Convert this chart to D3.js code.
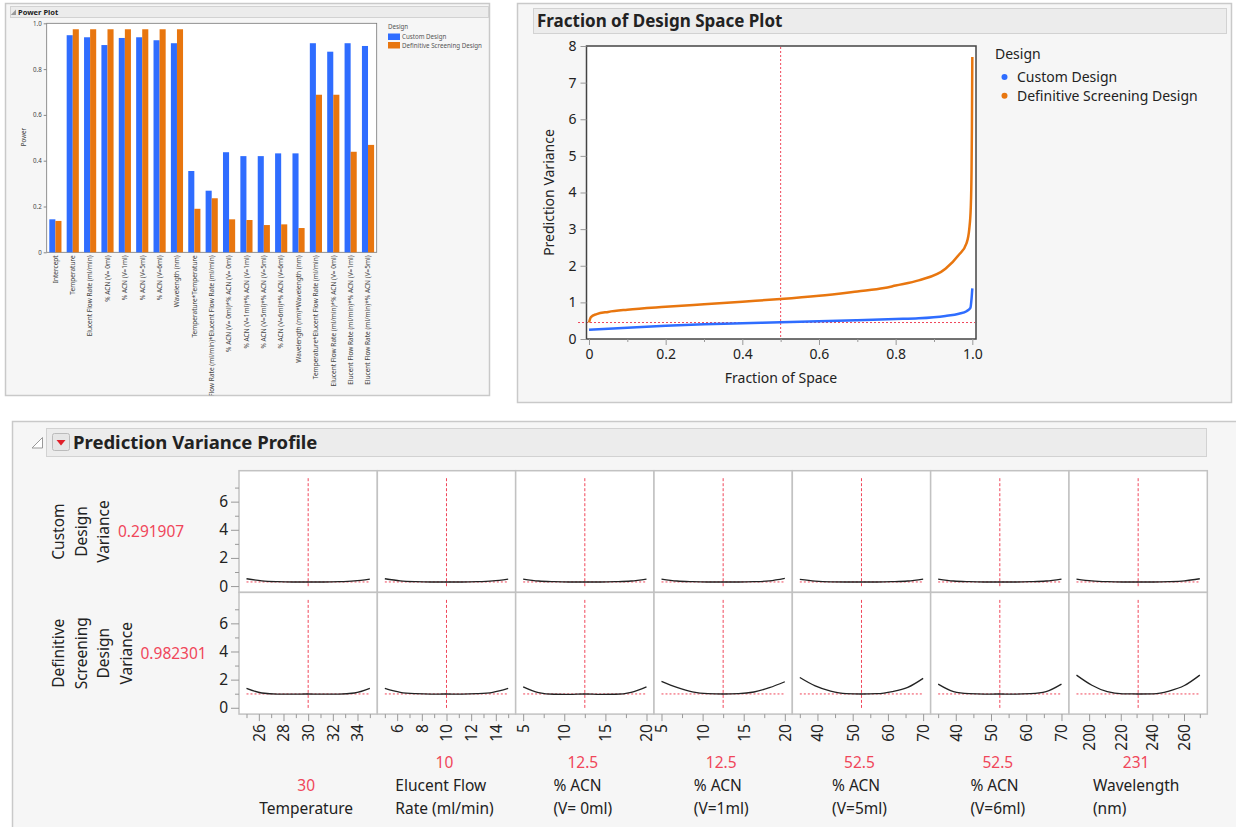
<!DOCTYPE html>
<html>
<head>
<meta charset="utf-8">
<script src="https://cdn.jsdelivr.net/npm/d3@7"></script>
<style>
body { margin: 0; background: #fff; }
svg text { font-family: "Segoe UI", "Noto Sans", sans-serif; fill: #222; }
</style>
</head>
<body>
<svg id="chart" width="1236" height="827"></svg>
<script>
// ---- data ----
const designs = ["Custom Design", "Definitive Screening Design"];

const terms = ["Intercept", "Temperature", "Elucent Flow Rate (ml/min)", "% ACN (V= 0ml)", "% ACN (V=1ml)",
    "% ACN (V=5ml)", "% ACN (V=6ml)", "Wavelength (nm)", "Temperature*Temperature",
    "Elucent Flow Rate (ml/min)*Elucent Flow Rate (ml/min)", "% ACN (V= 0ml)*% ACN (V= 0ml)",
    "% ACN (V=1ml)*% ACN (V=1ml)", "% ACN (V=5ml)*% ACN (V=5ml)", "% ACN (V=6ml)*% ACN (V=6ml)",
    "Wavelength (nm)*Wavelength (nm)", "Temperature*Elucent Flow Rate (ml/min)",
    "Elucent Flow Rate (ml/min)*% ACN (V= 0ml)", "Elucent Flow Rate (ml/min)*% ACN (V=1ml)",
    "Elucent Flow Rate (ml/min)*% ACN (V=5ml)"];
const powerCustom = [0.144, 0.948, 0.939, 0.905, 0.936, 0.939, 0.926, 0.913, 0.355, 0.269, 0.437, 0.42, 0.42, 0.432, 0.432, 0.913, 0.876, 0.913, 0.901];
const powerDSD = [0.137, 0.974, 0.974, 0.974, 0.974, 0.974, 0.974, 0.974, 0.19, 0.236, 0.144, 0.141, 0.119, 0.122, 0.106, 0.688, 0.688, 0.439, 0.469];
const powerTicks = [0, 0.2, 0.4, 0.6, 0.8, 1.0];

// fraction of design space
const fracCustom = [[0, 0.25], [0.05, 0.28], [0.1, 0.31], [0.2, 0.36], [0.3, 0.4], [0.4, 0.43], [0.5, 0.455],
    [0.6, 0.485], [0.7, 0.515], [0.8, 0.545], [0.86, 0.565], [0.93, 0.63], [0.965, 0.69], [0.985, 0.76],
    [0.995, 0.85], [0.998, 1.1], [1.0, 1.38]];
const fracDSD = [[0, 0.45], [0.005, 0.6], [0.02, 0.68], [0.05, 0.74], [0.1, 0.8], [0.2, 0.88], [0.3, 0.95],
    [0.4, 1.02], [0.5, 1.09], [0.6, 1.18], [0.7, 1.3], [0.77, 1.39], [0.8, 1.46], [0.86, 1.6], [0.93, 1.92],
    [0.965, 2.3], [0.985, 2.62], [0.992, 3.0], [0.996, 3.6], [0.998, 4.6], [0.999, 5.8], [1.0, 7.7]];
const fracRef = [0.5, 0.45];
const fracXTicks = [0, 0.2, 0.4, 0.6, 0.8, 1.0];
const fracXMinor = [0.1, 0.3, 0.5, 0.7, 0.9];
const fracYTicks = [0, 1, 2, 3, 4, 5, 6, 7, 8];

// prediction variance profile
const factorNames = [["Temperature"], ["Elucent Flow", "Rate (ml/min)"], ["% ACN", "(V= 0ml)"], ["% ACN", "(V=1ml)"],
    ["% ACN", "(V=5ml)"], ["% ACN", "(V=6ml)"], ["Wavelength", "(nm)"]];
const factorLow = [25, 5, 5, 5, 35, 35, 192];
const factorHigh = [35, 15, 20, 20, 70, 70, 270];
const factorCurrent = [30, 10, 12.5, 12.5, 52.5, 52.5, 231];
const factorTicks = [[26, 28, 30, 32, 34], [6, 8, 10, 12, 14], [5, 10, 15, 20], [5, 10, 15, 20], [40, 50, 60, 70], [40, 50, 60, 70], [200, 220, 240, 260]];
const factorMinor = [[25, 27, 29, 31, 33, 35], [5, 7, 9, 11, 13, 15], [7.5, 12.5, 17.5], [7.5, 12.5, 17.5], [35, 45, 55, 65], [35, 45, 55, 65], [210, 230, 250, 270]];
const profileX = [
    [25, 26.25, 27.5, 28.75, 30, 31.25, 32.5, 33.75, 35],
    [5, 6.25, 7.5, 8.75, 10, 11.25, 12.5, 13.75, 15],
    [5, 6.875, 8.75, 10.625, 12.5, 14.375, 16.25, 18.125, 20],
    [5, 6.875, 8.75, 10.625, 12.5, 14.375, 16.25, 18.125, 20],
    [35, 39.375, 43.75, 48.125, 52.5, 56.875, 61.25, 65.625, 70],
    [35, 39.375, 43.75, 48.125, 52.5, 56.875, 61.25, 65.625, 70],
    [192, 201.75, 211.5, 221.25, 231, 240.75, 250.5, 260.25, 270]
];
const profileCustom = [
    [0.52, 0.37, 0.31, 0.29, 0.29, 0.29, 0.31, 0.37, 0.5],
    [0.52, 0.37, 0.31, 0.29, 0.29, 0.29, 0.31, 0.37, 0.5],
    [0.5, 0.36, 0.31, 0.29, 0.29, 0.29, 0.31, 0.36, 0.5],
    [0.5, 0.36, 0.31, 0.29, 0.29, 0.29, 0.31, 0.37, 0.55],
    [0.47, 0.35, 0.3, 0.29, 0.29, 0.29, 0.31, 0.36, 0.5],
    [0.5, 0.36, 0.31, 0.29, 0.29, 0.29, 0.31, 0.36, 0.5],
    [0.5, 0.37, 0.31, 0.29, 0.29, 0.29, 0.31, 0.37, 0.52]
];
const profileDSD = [
    [1.38, 1.05, 0.97, 0.97, 0.98, 0.97, 0.97, 1.05, 1.38],
    [1.38, 1.1, 1.0, 0.97, 0.98, 0.97, 1.0, 1.1, 1.38],
    [1.49, 1.08, 0.96, 0.95, 0.98, 0.95, 0.96, 1.1, 1.49],
    [1.88, 1.45, 1.13, 1.0, 0.98, 1.0, 1.12, 1.43, 1.85],
    [2.15, 1.55, 1.18, 1.0, 0.98, 1.0, 1.15, 1.45, 2.09],
    [1.68, 1.15, 1.0, 0.97, 0.98, 0.97, 1.0, 1.15, 1.68],
    [2.32, 1.6, 1.14, 0.99, 0.98, 0.99, 1.19, 1.58, 2.32]
];
const rowNames = [["Custom", "Design", "Variance"], ["Definitive", "Screening", "Design", "Variance"]];
const rowCurrent = [0.291907, 0.982301];
const pvYTicks = [0, 2, 4, 6];
const pvYMinor = [1, 3, 5, 7];

const colors = ["#2f6dff", "#e8760f"];
const red = "#f0465a";
const fmt = d => d === 0 ? "0" : d3.format(".1f")(d);

const svg = d3.select("#chart");

// panel boxes and title bars
function panel(x, y, w, h) {
    svg.append("rect").attr("x", x).attr("y", y).attr("width", w).attr("height", h)
        .attr("fill", "#f6f6f6").attr("stroke", "#c9c9c9").attr("stroke-width", 1.5);
}
function titleBar(x, y, w, h) {
    svg.append("rect").attr("x", x).attr("y", y).attr("width", w).attr("height", h)
        .attr("fill", "#ececec").attr("stroke", "#d2d2d2");
}
panel(5.5, 3.5, 484, 392);
panel(517.5, 3.5, 714, 399);
panel(12.5, 421.5, 1230, 410);

/*---------------------- Power Plot ----------------------*/
titleBar(10.5, 6.5, 478, 11);
svg.append("path").attr("d", "M16,9.5 L16,15 L10.8,15 Z").attr("fill", "#999");
svg.append("text").attr("x", 18).attr("y", 15).attr("font-size", 7.5).attr("font-weight", "bold").text("Power Plot");

const powerX = d3.scaleBand().domain(terms).range([46.7, 376.7]).paddingInner(0.3).paddingOuter(0.15);
const powerSub = d3.scaleBand().domain(designs).range([0, powerX.bandwidth()]);
const powerY = d3.scaleLinear().domain([0, 1]).range([252.3, 23.3]);

svg.append("defs").append("clipPath").attr("id", "powerClip")
    .append("rect").attr("x", 5).attr("y", -260).attr("width", 485).attr("height", 403);

svg.append("rect").attr("x", 46.7).attr("y", 23.3).attr("width", 330).attr("height", 229)
    .attr("fill", "#fff").attr("stroke", "#777").attr("stroke-width", 0.8);

// bars
const powerRows = terms.map((t, i) => ({ term: t, values: [powerCustom[i], powerDSD[i]] }));
svg.append("g").selectAll("g").data(powerRows).join("g")
    .attr("transform", d => `translate(${powerX(d.term)},0)`)
    .selectAll("rect").data(d => d.values.map((v, k) => ({ design: designs[k], v: v, k: k })))
    .join("rect")
    .attr("x", d => powerSub(d.design))
    .attr("width", powerSub.bandwidth())
    .attr("y", d => powerY(d.v))
    .attr("height", d => powerY(0) - powerY(d.v))
    .attr("fill", d => colors[d.k]);

// Y axis
const pAxisY = svg.append("g").attr("transform", "translate(46.7,0)")
    .call(d3.axisLeft(powerY).tickValues(powerTicks).tickFormat(fmt).tickSize(3).tickPadding(2));
pAxisY.select(".domain").remove();
pAxisY.selectAll("line").attr("stroke", "#888");
pAxisY.selectAll("text").attr("font-size", 6.2).style("fill", "#444");

// X axis labels
const pAxisX = svg.append("g").attr("transform", "translate(0,252.3)").attr("clip-path", "url(#powerClip)")
    .call(d3.axisBottom(powerX).tickSize(0).tickPadding(2));
pAxisX.select(".domain").remove();
pAxisX.selectAll("text")
    .attr("transform", "rotate(-90)")
    .attr("text-anchor", "end")
    .attr("x", -3).attr("y", 0).attr("dy", "0.35em")
    .attr("font-size", 6.5).style("fill", "#444");

svg.append("text").attr("transform", "translate(26,137) rotate(-90)").attr("text-anchor", "middle")
    .attr("font-size", 6.2).style("fill", "#444").text("Power");

// legend
svg.append("text").attr("x", 388).attr("y", 29).attr("font-size", 6.2).style("fill", "#555").text("Design");
designs.forEach((d, k) => {
    svg.append("rect").attr("x", 388).attr("y", 33.5 + k * 8.5).attr("width", 12).attr("height", 6.5).attr("fill", colors[k]);
    svg.append("text").attr("x", 402).attr("y", 39.2 + k * 8.5).attr("font-size", 6.2).style("fill", "#555").text(d);
});

/*---------------------- Fraction of Design Space Plot ----------------------*/
titleBar(533.5, 8.5, 693, 25);
svg.append("text").attr("x", 537).attr("y", 27).attr("font-size", 17).attr("font-weight", "bold").text("Fraction of Design Space Plot");

const fx = d3.scaleLinear().domain([-0.0065, 1.0096]).range([586.5, 976]);
const fy = d3.scaleLinear().domain([0, 8]).range([339, 46]);

svg.append("rect").attr("x", 586.5).attr("y", 46).attr("width", 389.5).attr("height", 293)
    .attr("fill", "#fff");

// reference lines
svg.append("line").attr("x1", fx(fracRef[0])).attr("x2", fx(fracRef[0])).attr("y1", 47).attr("y2", 338)
    .attr("stroke", red).attr("stroke-width", 1).attr("stroke-dasharray", "2,2");
svg.append("line").attr("x1", 578).attr("x2", 975).attr("y1", fy(fracRef[1])).attr("y2", fy(fracRef[1]))
    .attr("stroke", red).attr("stroke-width", 1).attr("stroke-dasharray", "2,2");

// curves
const fracLine = d3.line().x(d => fx(d[0])).y(d => fy(d[1])).curve(d3.curveMonotoneX);
[fracCustom, fracDSD].forEach((s, k) => {
    svg.append("path").datum(s).attr("fill", "none").attr("stroke", colors[k])
        .attr("stroke-width", 2.5).attr("d", fracLine);
});

svg.append("rect").attr("x", 586.5).attr("y", 46).attr("width", 389.5).attr("height", 293)
    .attr("fill", "none").attr("stroke", "#444").attr("stroke-width", 1.5);

// Y axis
const fAxisY = svg.append("g").attr("transform", "translate(586.5,0)")
    .call(d3.axisLeft(fy).tickValues(fracYTicks).tickSize(6).tickPadding(4));
fAxisY.select(".domain").remove();
fAxisY.selectAll("line").attr("stroke", "#999");
fAxisY.selectAll("text").attr("font-size", 14);

// X axis
const fAxisX = svg.append("g").attr("transform", "translate(0,339)")
    .call(d3.axisBottom(fx).tickValues(fracXTicks).tickFormat(fmt).tickSize(6).tickPadding(4));
fAxisX.select(".domain").remove();
fAxisX.selectAll("line").attr("stroke", "#999");
fAxisX.selectAll("text").attr("font-size", 14);
const fAxisXm = svg.append("g").attr("transform", "translate(0,339)")
    .call(d3.axisBottom(fx).tickValues(fracXMinor).tickFormat("").tickSize(3));
fAxisXm.select(".domain").remove();
fAxisXm.selectAll("line").attr("stroke", "#999");

svg.append("text").attr("x", 781).attr("y", 383).attr("text-anchor", "middle").attr("font-size", 14).text("Fraction of Space");
svg.append("text").attr("transform", "translate(549,192.5) rotate(-90)").attr("text-anchor", "middle")
    .attr("dy", "0.35em").attr("font-size", 14).text("Prediction Variance");

// legend
svg.append("text").attr("x", 995).attr("y", 59).attr("font-size", 14).text("Design");
designs.forEach((d, k) => {
    svg.append("circle").attr("cx", 1004.5).attr("cy", 77 + k * 18.7).attr("r", 3).attr("fill", colors[k]);
    svg.append("text").attr("x", 1017).attr("y", 82 + k * 18.7).attr("font-size", 14).text(d);
});

/*---------------------- Prediction Variance Profile ----------------------*/
titleBar(46.5, 428.5, 1160, 28);
svg.append("path").attr("d", "M42.5,437.5 L42.5,448 L32,448 Z").attr("fill", "#fff").attr("stroke", "#999");
svg.append("rect").attr("x", 52.5).attr("y", 433.5).attr("width", 17).attr("height", 17).attr("rx", 2)
    .attr("fill", "#e6e6e6").attr("stroke", "#bbb");
svg.append("path").attr("d", "M56.5,440 L65.5,440 L61,445.5 Z").attr("fill", "#e0202a");
svg.append("text").attr("x", 73).attr("y", 449).attr("font-size", 18.5).attr("font-weight", "bold").text("Prediction Variance Profile");

const gridX = 239, gridY = 470.7, cellW = 138.33, cellH = 121.7;
const pvY = [0, 1].map(r => d3.scaleLinear().domain([-0.45, 8.2]).range([gridY + (r + 1) * cellH, gridY + r * cellH]));
const pvX = factorLow.map((lo, j) => d3.scaleLinear().domain([lo, factorHigh[j]])
    .range([gridX + j * cellW + 7.5, gridX + (j + 1) * cellW - 7.5]));
const profiles = [profileCustom, profileDSD];
const pvLine = d3.curveMonotoneX;

[0, 1].forEach(r => {
    const y = pvY[r];
    factorLow.forEach((lo, j) => {
        const x = pvX[j];
        const cx = gridX + j * cellW, cy = gridY + r * cellH;
        svg.append("rect").attr("x", cx).attr("y", cy).attr("width", cellW).attr("height", cellH)
            .attr("fill", "#fff").attr("stroke", "#c2c2c2").attr("stroke-width", 1.5);
        // current settings
        svg.append("line").attr("x1", x(factorCurrent[j])).attr("x2", x(factorCurrent[j]))
            .attr("y1", cy + 7.5).attr("y2", cy + cellH - 5.5)
            .attr("stroke", red).attr("stroke-dasharray", "3,2");
        svg.append("line").attr("x1", x.range()[0]).attr("x2", x.range()[1])
            .attr("y1", y(rowCurrent[r])).attr("y2", y(rowCurrent[r]))
            .attr("stroke", red).attr("stroke-dasharray", "2,2");
        // profile curve
        const pts = profileX[j].map((v, k) => [v, profiles[r][j][k]]);
        svg.append("path").datum(pts).attr("fill", "none").attr("stroke", "#222").attr("stroke-width", 1.3)
            .attr("d", d3.line().x(d => x(d[0])).y(d => y(d[1])).curve(pvLine));
    });

    // Y axis
    const ay = svg.append("g").attr("transform", `translate(${gridX},0)`)
        .call(d3.axisLeft(y).tickValues(pvYTicks).tickSize(8).tickPadding(3));
    ay.select(".domain").remove();
    ay.selectAll("line").attr("stroke", "#999");
    ay.selectAll("text").attr("font-size", 15.5);
    const aym = svg.append("g").attr("transform", `translate(${gridX},0)`)
        .call(d3.axisLeft(y).tickValues(pvYMinor).tickFormat("").tickSize(4));
    aym.select(".domain").remove();
    aym.selectAll("line").attr("stroke", "#999");

    // row label
    const cyMid = gridY + r * cellH + cellH / 2;
    rowNames[r].forEach((t, i) => {
        svg.append("text").attr("transform", `translate(${59 + i * 22.5},${cyMid}) rotate(-90)`)
            .attr("text-anchor", "middle").attr("dy", "0.35em").attr("font-size", 15.5).text(t);
    });
    svg.append("text").attr("x", 118 + (rowNames[r].length - 3) * 22.5).attr("y", cyMid + 5.5)
        .attr("font-size", 15.5).style("fill", red).text(rowCurrent[r]);
});

// X axes and factor labels
const axisTop = gridY + 2 * cellH;
factorLow.forEach((lo, j) => {
    const x = pvX[j];
    const ax = svg.append("g").attr("transform", `translate(0,${axisTop})`)
        .call(d3.axisBottom(x).tickValues(factorTicks[j]).tickSize(7).tickPadding(3));
    ax.select(".domain").remove();
    ax.selectAll("line").attr("stroke", "#999");
    ax.selectAll("text")
        .attr("transform", "rotate(-90)")
        .attr("text-anchor", "end")
        .attr("x", -10).attr("y", 0).attr("dy", "0.35em")
        .attr("font-size", 15.5);
    const axm = svg.append("g").attr("transform", `translate(0,${axisTop})`)
        .call(d3.axisBottom(x).tickValues(factorMinor[j]).tickFormat("").tickSize(4));
    axm.select(".domain").remove();
    axm.selectAll("line").attr("stroke", "#999");

    const names = factorNames[j];
    const g = svg.append("g");
    const texts = names.map((t, i) => g.append("text").attr("x", 0)
        .attr("y", 814 - 23 * (names.length - 1 - i)).attr("font-size", 15.5).text(t));
    const w = d3.max(texts, t => t.node().getComputedTextLength());
    g.append("text").attr("x", w / 2).attr("y", 814 - 23 * names.length).attr("text-anchor", "middle")
        .attr("font-size", 15.5).style("fill", red).text(factorCurrent[j]);
    g.attr("transform", `translate(${gridX + j * cellW + cellW / 2 - 2 - w / 2},0)`);
});
</script>
</body>
</html>
